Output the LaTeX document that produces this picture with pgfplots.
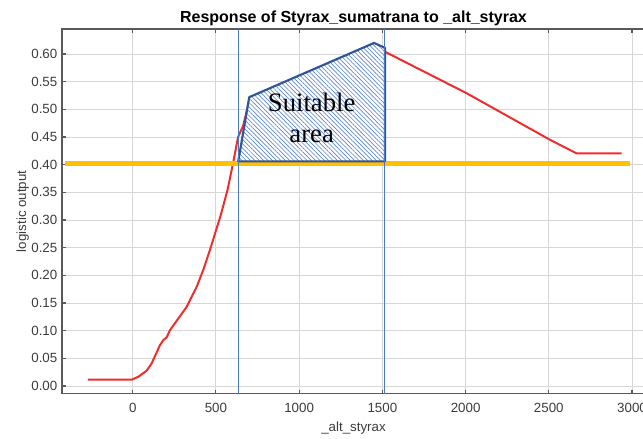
\documentclass[border=0pt]{standalone}
\usepackage{pgfplots}
\pgfplotsset{compat=1.18}
\usepackage{fontspec}
\setmainfont{Liberation Sans}
\newfontfamily\timesfont{Liberation Serif}
\usetikzlibrary{patterns.meta}
\definecolor{curvered}{RGB}{238,45,45}
\definecolor{gold}{RGB}{255,192,0}
\definecolor{vblue}{RGB}{75,120,195}
\definecolor{edgeblue}{RGB}{47,85,151}
\definecolor{hatchblue}{RGB}{95,135,210}
\definecolor{gridgray}{RGB}{215,215,215}
\definecolor{framegray}{RGB}{90,90,90}
\definecolor{labelgray}{RGB}{60,60,60}
\begin{document}
\begin{tikzpicture}
\begin{axis}[
  at={(46.5pt,34.1pt)}, anchor=south west,
  scale only axis, width=437.25pt, height=273.4pt,
  xmin=-425, xmax=3078, ymin=-0.0136, ymax=0.6452,
  xtick={0,500,1000,1500,2000,2500,3000},
  ytick={0,0.05,0.10,0.15,0.20,0.25,0.30,0.35,0.40,0.45,0.50,0.55,0.60},
  /pgf/number format/assume math mode=true,
  xticklabel style={/pgf/number format/1000 sep={}, yshift=-3.5pt},
  yticklabel style={/pgf/number format/.cd, fixed, fixed zerofill, precision=2},
  ticklabel style={font=\fontsize{10}{12}\selectfont, text=labelgray},
  grid=major,
  major grid style={gridgray, line width=0.75pt},
  axis line style={framegray, line width=0.8pt},
  tick style={framegray, line width=0.8pt},
  major tick length=3pt,
  tick align=inside,
  xtick pos=both, ytick pos=left,
  title={Response of Styrax\_sumatrana to \_alt\_styrax},
  title style={font=\fontsize{12}{14}\selectfont\bfseries, yshift=-7pt},
  xlabel={\_alt\_styrax},
  ylabel={logistic output},
  label style={font=\fontsize{10}{12}\selectfont, text=labelgray},
  ylabel style={yshift=-5pt},
]
% red response curve
\addplot[curvered, line width=1.5pt, no marks] coordinates {
 (-269,0.0114) (-6,0.0114) (34,0.0168) (84,0.0277) (114,0.041) (164,0.074)
 (184,0.083) (204,0.088) (224,0.101) (274,0.122) (324,0.143) (344,0.155)
 (384,0.179) (424,0.210) (464,0.246) (530,0.310) (570,0.355) (603,0.403)
 (633,0.450) (663,0.470) (700,0.515) (1450,0.615) (1516,0.604)
 (2007,0.529) (2507,0.445) (2666,0.4206) (2938,0.4206)
};
% threshold line
\addplot[gold, line width=3.75pt, no marks] coordinates {(-407,0.403) (2989,0.403)};
% suitable area polygon
\addplot[fill=white, draw=none, no marks] coordinates {
 (634,0.406) (700,0.522) (1450,0.620) (1516,0.611) (1516,0.406)} -- cycle;
\addplot[pattern={Lines[angle=-45,distance=2.3pt,line width=0.5pt]}, pattern color=hatchblue, draw=edgeblue, line width=1.6pt, line join=round, no marks] coordinates {
 (634,0.406) (700,0.522) (1450,0.620) (1516,0.611) (1516,0.406)} -- cycle;
% vertical limit lines
\addplot[vblue, line width=0.75pt, no marks] coordinates {(633,-0.0136) (633,0.6452)};
\addplot[vblue, line width=0.75pt, no marks] coordinates {(1512,-0.0136) (1512,0.6452)};
\node[font=\timesfont\fontsize{20}{23}\selectfont, align=center, text=black] at (axis cs:1075,0.484) {Suitable\\area};
\end{axis}
\pgfresetboundingbox
\path (0,0) rectangle (482.25pt,329.25pt);
\end{tikzpicture}
\end{document}
